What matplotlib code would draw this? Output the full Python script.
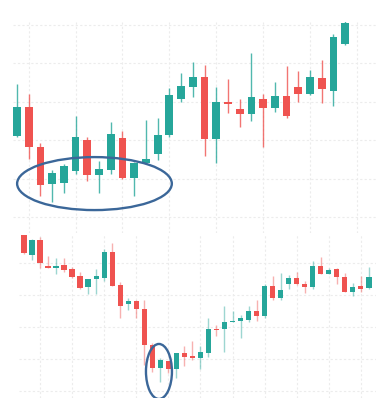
import numpy as np
import matplotlib
matplotlib.use("Agg")
import matplotlib.pyplot as plt
from matplotlib.patches import Ellipse


# Upper chart: 29 daily candles (open, high, low, close)
top_open = [121.1, 128.6, 118.2, 108.6, 108.9, 112.0, 120.1, 110.9, 112.2, 120.6,
            110.2, 114.1, 116.4, 121.4, 130.7, 133.9, 136.5, 120.3, 129.9, 128.1,
            126.8, 130.7, 128.4, 131.5, 133.9, 132.0, 136.2, 132.8, 145.1]
top_high = [134.6, 132.0, 119.3, 112.2, 113.8, 126.3, 120.8, 114.6, 124.7, 122.4,
            114.3, 125.3, 125.8, 133.6, 137.5, 140.4, 139.6, 133.9, 135.9, 130.7,
            142.7, 132.0, 135.2, 139.3, 138.0, 138.3, 140.9, 147.7, 151.5]
top_low = [120.8, 115.1, 105.5, 103.9, 106.3, 111.2, 109.4, 106.3, 111.2, 109.9,
           105.5, 114.0, 114.8, 120.8, 129.9, 131.3, 115.9, 114.1, 127.1, 123.4,
           125.0, 118.2, 127.3, 125.8, 129.9, 131.8, 129.7, 128.9, 144.8]
top_close = [128.6, 118.2, 108.3, 111.5, 113.3, 120.8, 110.9, 112.5, 121.6, 110.2,
             114.1, 115.1, 121.4, 131.8, 134.1, 136.5, 120.3, 129.9, 129.4, 126.8,
             131.3, 128.4, 131.5, 126.3, 132.0, 136.5, 133.3, 146.9, 150.5]

# Lower chart: 44 candles
bot_open = [148.8, 142.5, 147.2, 139.1, 138.4, 139.4, 138.1, 135.9, 132.5, 135.0,
            135.3, 143.4, 133.1, 127.2, 128.1, 125.6, 114.4, 107.2, 109.4, 106.9,
            111.9, 110.9, 110.3, 111.9, 119.4, 119.4, 121.6, 121.9, 122.2, 125.0,
            123.4, 132.8, 129.1, 133.4, 135.3, 133.4, 132.5, 139.1, 136.6, 138.1,
            135.6, 130.9, 132.8, 132.2]
bot_high = [149.0, 147.5, 148.1, 142.2, 141.6, 141.6, 138.8, 137.2, 135.1, 138.1,
            144.4, 146.3, 134.1, 129.1, 128.4, 128.4, 115.0, 110.3, 109.5, 112.0,
            114.1, 115.6, 114.1, 122.8, 120.6, 126.6, 125.0, 123.8, 126.6, 128.4,
            133.4, 135.9, 136.9, 136.3, 137.2, 134.4, 140.6, 141.9, 138.4, 138.4,
            136.9, 133.8, 135.9, 138.8]
bot_low = [142.8, 140.9, 138.4, 138.3, 136.6, 137.2, 135.3, 131.9, 130.3, 130.3,
           134.4, 132.7, 122.8, 125.3, 122.8, 108.1, 105.9, 102.8, 105.6, 104.1,
           107.8, 109.7, 106.9, 110.6, 117.2, 112.2, 121.5, 116.6, 121.6, 121.9,
           122.8, 128.4, 128.4, 131.9, 133.1, 130.6, 131.9, 136.5, 136.5, 133.4,
           130.8, 129.7, 130.9, 131.9]
bot_close = [143.1, 147.2, 140.0, 138.4, 139.1, 137.8, 135.6, 132.2, 135.0, 135.9,
             143.4, 132.8, 126.6, 128.1, 125.6, 114.4, 107.2, 109.7, 106.9, 111.9,
             110.6, 110.3, 112.2, 119.4, 119.1, 121.6, 121.9, 122.8, 125.0, 123.4,
             132.8, 129.1, 131.6, 135.3, 133.4, 132.5, 139.1, 136.6, 137.8, 135.6,
             130.9, 132.5, 131.9, 135.6]

up_color = "#26a69a"
down_color = "#ef5350"
ring_color = "#3b6799"
grid_color = "#ececec"


def draw_candles(ax, opens, highs, lows, closes, width, wick_alpha):
    opens = np.array(opens)
    closes = np.array(closes)
    x = np.arange(len(opens))
    colors = [up_color if c >= o else down_color for o, c in zip(opens, closes)]
    ax.vlines(x, lows, highs, colors=colors, linewidth=1.0, alpha=wick_alpha, zorder=2)
    body_low = np.minimum(opens, closes)
    body_h = np.maximum(np.abs(closes - opens), 0.35)
    ax.bar(x, body_h, width=width, bottom=body_low, color=colors, linewidth=0, zorder=3)


def style_axes(ax, xticks, yticks):
    ax.set_xticks(xticks)
    ax.set_yticks(yticks)
    ax.grid(True, color=grid_color, linestyle=(0, (2, 2)), linewidth=0.8, zorder=0)
    ax.set_axisbelow(True)
    ax.tick_params(length=0, labelbottom=False, labelleft=False)
    for spine in ax.spines.values():
        spine.set_visible(False)


fig = plt.figure(figsize=(3.76, 4.07), dpi=100)

# upper panel
ax1 = fig.add_axes([0.0346, 0.4275, 0.9654, 0.5184])
draw_candles(ax1, top_open, top_high, top_low, top_close, 0.66, 0.8)
ax1.set_xlim(-0.34, 30.63)
ax1.set_ylim(95.83, 150.78)
style_axes(ax1, range(1, 30, 4), range(100, 151, 10))
ax1.add_patch(Ellipse((6.61, 108.7), 13.2, 13.8, fill=False, edgecolor=ring_color,
                      linewidth=1.7, zorder=4))

# lower panel
ax2 = fig.add_axes([0.0505, 0.0221, 0.9495, 0.4005])
draw_candles(ax2, bot_open, bot_high, bot_low, bot_close, 0.66, 0.45)
ax2.set_xlim(-0.62, 43.89)
ax2.set_ylim(97.81, 148.75)
style_axes(ax2, range(2, 44, 4), range(100, 141, 10))
ax2.add_patch(Ellipse((16.83, 106.1), 3.24, 17.2, fill=False, edgecolor=ring_color,
                      linewidth=1.7, zorder=4))

fig.savefig("out.png", dpi=100)
